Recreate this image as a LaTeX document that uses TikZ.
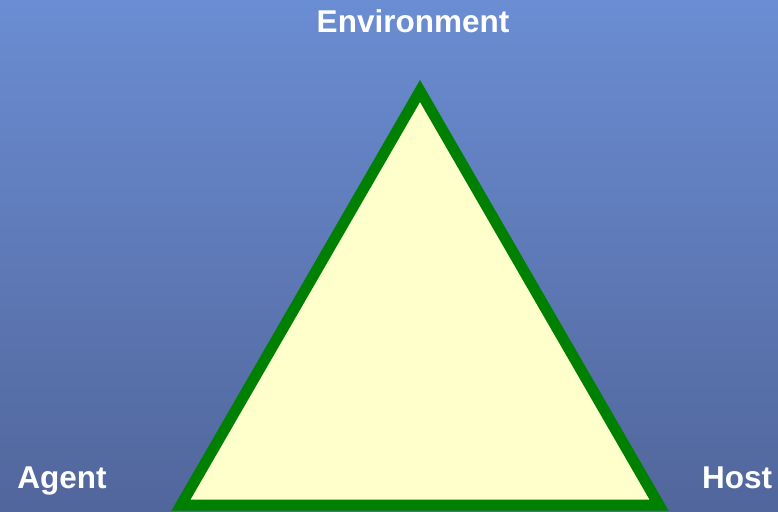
\documentclass[tikz,border=0pt]{standalone}
\usepackage{fontspec}
\setmainfont{Liberation Sans}
\usepackage{xcolor}
\usepackage{tikz}

\definecolor{bgtop}{RGB}{107,141,211}
\definecolor{bgbottom}{RGB}{81,102,155}
\definecolor{edgegreen}{RGB}{0,128,0}
\definecolor{paleyellow}{RGB}{255,255,204}

\tikzset{
  cornerlabel/.style={text=white, font=\fontsize{31.5}{31.5}\selectfont\bfseries, anchor=base, inner sep=0pt}
}

\begin{document}
\begin{tikzpicture}[x=1pt, y=1pt]
    % Frame (778 x 511) with vertical gradient
    \useasboundingbox (0,0) rectangle (778,511);
    \clip (0,0) rectangle (778,511);
    \shade[top color=bgtop, bottom color=bgbottom] (0,0) rectangle (778,511);
    
    % Triangle: apex and base corners
    \coordinate (apex) at (420,420);
    \coordinate (left) at (181,6);
    \coordinate (right) at (659,6);
    \filldraw[fill=paleyellow, draw=edgegreen, line width=11pt, line join=miter] (apex) -- (left) -- (right) -- cycle;
    
    % Labels at the three corners
    \node[cornerlabel] (environment) at (413,478) {Environment};
    \node[cornerlabel] (agent) at (62,23) {Agent};
    \node[cornerlabel] (host) at (737,23) {Host};
\end{tikzpicture}
\end{document}
